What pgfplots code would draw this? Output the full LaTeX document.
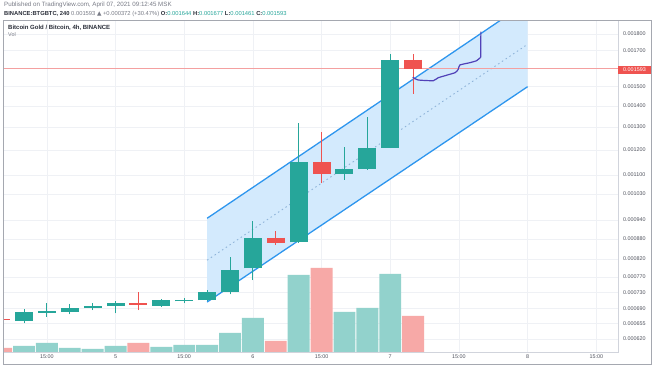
\documentclass[border=0pt]{standalone}
\usepackage{fontspec}
\setmainfont{Liberation Sans}
\newfontfamily\dejavu{DejaVu Sans}
\usepackage{pgfplots}
\pgfplotsset{compat=1.18}
\definecolor{tvgreen}{HTML}{26A69A}
\definecolor{tvred}{HTML}{EF5350}
\definecolor{volgreen}{HTML}{92D2CC}
\definecolor{volred}{HTML}{F7A9A7}
\definecolor{chanline}{HTML}{2E96EE}
\definecolor{chanfill}{HTML}{D3EAFD}
\definecolor{chanmid}{HTML}{8FB4D9}
\definecolor{projcol}{HTML}{5142B8}
\definecolor{pricecol}{HTML}{F4A0A0}
\definecolor{gridcol}{HTML}{EFF1F5}
\definecolor{sepcol}{HTML}{D1D4DC}
\definecolor{framecol}{HTML}{A5A8B0}
\definecolor{hdrgray}{HTML}{787B86}
\definecolor{txtdark}{HTML}{2A2E39}
\definecolor{ticktxt}{HTML}{50535E}
\begin{document}
\begin{tikzpicture}[x=1pt,y=1pt]
\useasboundingbox (0,0) rectangle (654,366);
\fill[white] (0,0) rectangle (654,366);

% ---- grid, ticks and labels ----
\begin{axis}[ymode=log,
  at={(3pt,14pt)}, anchor=south west, scale only axis,
  width=615pt, height=331.3pt, xmin=0.083, xmax=26.95,
  ymin=0.00059254, ymax=0.0018856,
  axis line style={draw=sepcol, line width=0.6pt},
  xmajorgrids, ymajorgrids, grid style={gridcol, line width=0.5pt},
  major tick length=0pt, yminorticks=false, xminorticks=false,
  xtick={2,5,8,11,14,17,20,23,26},
  xticklabels={15:00,5,15:00,6,15:00,7,15:00,8,15:00},
  xticklabel style={font=\fontsize{5.4}{6}\selectfont, text=ticktxt, inner sep=0pt, anchor=north, yshift=-3pt},
  ytick={0.00062,0.000655,0.00069,0.00073,0.00077,0.00082,0.00088,0.00094,0.00103,0.0011,0.0012,0.0013,0.0014,0.0015,0.0017,0.0018},
  yticklabels={0.000620,0.000655,0.000690,0.000730,0.000770,0.000820,0.000880,0.000940,0.001030,0.001100,0.001200,0.001300,0.001400,0.001500,0.001700,0.001800},
  yticklabel pos=right,
  yticklabel style={font=\fontsize{5.4}{6}\selectfont, text=ticktxt, inner sep=0pt, anchor=west, xshift=5pt},
]
\end{axis}

% ---- volume ----
\begin{axis}[at={(3pt,14pt)}, anchor=south west, scale only axis,
  width=615pt, height=331.3pt, xmin=0.083, xmax=26.95,
  hide axis, ymin=0, ymax=331.3]
\addplot[ybar, bar width=21.9pt, bar shift=0pt, fill=volgreen, draw=none]
  coordinates {(1,6) (2,9) (3,4) (4,3) (5,6) (7,5) (8,7) (9,7) (10,19) (11,34) (13,77) (15,40) (16,44) (17,78)};
\addplot[ybar, bar width=21.9pt, bar shift=0pt, fill=volred, draw=none]
  coordinates {(0,4) (6,9) (12,11) (14,84) (18,36)};
\end{axis}

% ---- price ----
\begin{axis}[ymode=log,
  at={(3pt,14pt)}, anchor=south west, scale only axis,
  width=615pt, height=331.3pt, xmin=0.083, xmax=26.95,
  ymin=0.00059254, ymax=0.0018856,
  hide axis, unbounded coords=jump]
% parallel channel
\addplot[fill=chanfill, draw=none] coordinates {(9,0.0007057) (23,0.0014973) (23,0.0020129) (9,0.0009454)} -- cycle;
\addplot[chanline, line width=1.3pt] coordinates {(9,0.0009454) (23,0.0020129)};
\addplot[chanline, line width=1.3pt] coordinates {(9,0.0007057) (23,0.0014973)};
\addplot[chanmid, line width=0.9pt, dash pattern=on 1.5pt off 3pt] coordinates {(9,0.0008166) (23,0.0017364)};
% last price line
\addplot[draw=pricecol, line width=0.9pt] coordinates {(0.083,0.001593) (26.95,0.001593)};
% green candles: wicks (low-high) then bodies (open-close)
\addplot[tvgreen, line width=0.9pt] coordinates {
 (1,0.0006551) (1,0.0006879) (1,nan)
 (2,0.0006703) (2,0.0007040) (2,nan)
 (3,0.0006760) (3,0.0007000) (3,nan)
 (4,0.0006862) (4,0.0007025) (4,nan)
 (5,0.0006783) (5,0.0007081) (5,nan)
 (7,0.0006942) (7,0.0007123) (7,nan)
 (8,0.0007025) (8,0.0007148) (8,nan)
 (9,0.0007090) (9,0.0007350) (9,nan)
 (10,0.0007249) (10,0.0008267) (10,nan)
 (11,0.0007620) (11,0.0009375) (11,nan)
 (13,0.0008680) (13,0.0013175) (13,nan)
 (15,0.0010808) (15,0.0012115) (15,nan)
 (16,0.0011200) (16,0.0013483) (16,nan)
 (17,0.0012080) (17,0.0016770)};
\addplot[tvgreen, line width=18pt, line cap=butt] coordinates {
 (1,0.0006603) (1,0.0006807) (1,nan)
 (2,0.0006795) (2,0.0006835) (2,nan)
 (3,0.0006820) (3,0.0006903) (3,nan)
 (4,0.0006910) (4,0.0006966) (4,nan)
 (5,0.0006959) (5,0.0007040) (5,nan)
 (7,0.0006966) (7,0.0007106) (7,nan)
 (8,0.0007075) (8,0.0007115) (8,nan)
 (9,0.0007106) (9,0.0007315) (9,nan)
 (10,0.0007300) (10,0.0007891) (10,nan)
 (11,0.0007938) (11,0.0008816) (11,nan)
 (13,0.0008694) (13,0.0011496) (13,nan)
 (15,0.0011036) (15,0.0011219) (15,nan)
 (16,0.0011230) (16,0.0012073) (16,nan)
 (17,0.0012099) (17,0.0016440)};
% red candles
\addplot[tvred, line width=0.9pt] coordinates {
 (0,0.0006600) (0,0.0006680) (0,nan)
 (6,0.0006862) (6,0.0007300) (6,nan)
 (12,0.0008612) (12,0.0009044) (12,nan)
 (14,0.0010683) (14,0.0012794) (14,nan)
 (18,0.0014610) (18,0.0016770)};
\addplot[tvred, line width=18pt, line cap=butt] coordinates {
 (0,0.0006650) (0,0.0006620) (0,nan)
 (6,0.0007030) (6,0.0006985) (6,nan)
 (12,0.0008834) (12,0.0008681) (12,nan)
 (14,0.0011508) (14,0.0011036) (14,nan)
 (18,0.0016440) (18,0.0015930)};
% projected path
\addplot[projcol, line width=1.2pt, smooth, tension=0.3] coordinates {
 (17.98,0.0015473) (18.22,0.0015327) (18.88,0.0015290) (19.10,0.0015451)
 (19.83,0.0015723) (19.97,0.0015911) (20.04,0.0016152) (20.48,0.0016283)
 (20.77,0.0016397) (20.95,0.0016593)};
\addplot[projcol, line width=1.2pt] coordinates {(20.95,0.0016593) (20.96,0.0018145)};
\end{axis}

% ---- frame and texts ----
\draw[framecol, line width=0.8pt] (3,2) rectangle (651,345.3);
\fill[tvred] (618,291.6) rectangle (650.5,300.4);
\node[font=\fontsize{5.4}{6}\selectfont, text=white, inner sep=0pt] at (634.5,296) {0.001593};

\node[anchor=west, inner sep=0pt, font=\fontsize{6.2}{7}\selectfont, text=hdrgray] at (4,360.7)
  {Published on TradingView.com, April 07, 2021 09:12:45 MSK};
\node[anchor=west, inner sep=0pt, font=\fontsize{5.8}{7}\selectfont, text=hdrgray] at (4,351.7)
  {\textcolor{txtdark}{\textbf{BINANCE:BTGBTC, 240}} 0.001593 {\dejavu ▲} +0.000372 (+30.47\%)
   \textcolor{txtdark}{\textbf{O:}}\textcolor{tvgreen}{0.001644}
   \textcolor{txtdark}{\textbf{H:}}\textcolor{tvgreen}{0.001677}
   \textcolor{txtdark}{\textbf{L:}}\textcolor{tvgreen}{0.001461}
   \textcolor{txtdark}{\textbf{C:}}\textcolor{tvgreen}{0.001593}};
\node[anchor=west, inner sep=0pt, font=\fontsize{6}{7}\selectfont\bfseries, text=txtdark] at (8,338.7)
  {Bitcoin Gold / Bitcoin, 4h, BINANCE};
\node[anchor=west, inner sep=0pt, font=\fontsize{5.4}{7}\selectfont, text=hdrgray] at (8,331.7) {Vol};
\end{tikzpicture}
\end{document}
